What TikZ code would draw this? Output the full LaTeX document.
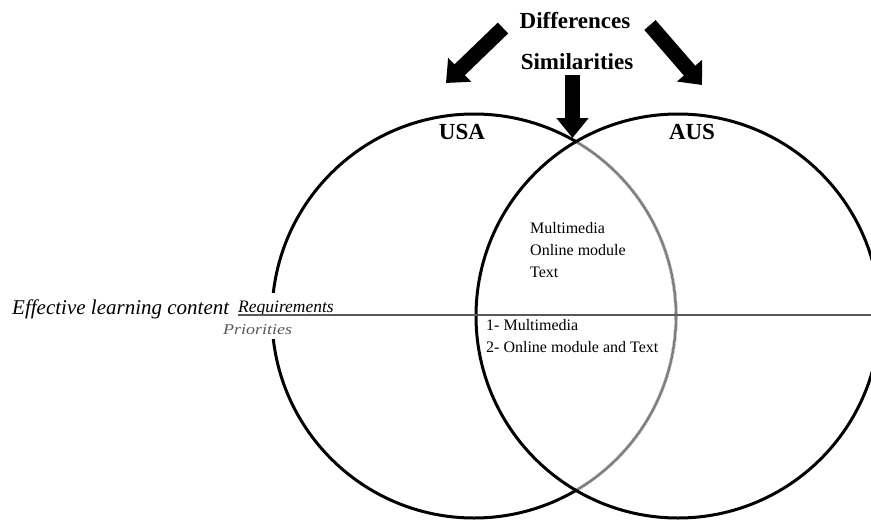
\documentclass[tikz,border=0pt]{standalone}
\usepackage{fontspec}
\setmainfont{Liberation Serif}
\usetikzlibrary{arrows.meta}
\begin{document}
\begin{tikzpicture}[x=1pt,y=-1pt,
  ring/.style={line width=3pt,draw=black},
  heading/.style={font=\bfseries\fontsize{23}{26}\selectfont,inner sep=0pt},
  country/.style={font=\bfseries\fontsize{23}{26}\selectfont,inner sep=0pt},
  item/.style={font=\fontsize{16}{18}\selectfont,inner sep=0pt,anchor=base west},
  blockarrow/.style={line width=15pt,-{Triangle[width=32pt,length=19pt]}},
]
\useasboundingbox (0,0) rectangle (871,520);
\begin{scope}
  \clip (0,0) rectangle (871,520);
  % the two sets
  \draw[ring] (474,316) circle[radius=202pt];
  % part of the USA circle lying inside the AUS circle is grey
  \begin{scope}
    \clip (678,316) circle[radius=202pt];
    \draw[line width=3.4pt,draw=white] (474,316) circle[radius=202pt];
    \draw[line width=2.6pt,draw=black!50] (474,316) circle[radius=202pt];
  \end{scope}
  \draw[ring] (678,316) circle[radius=202pt];
\end{scope}

% titles
\node[heading] (diff) at (575,21) {Differences};
\node[heading] (sim) at (577,62) {Similarities};
\node[country] (usa) at (462,132) {USA};
\node[country] (aus) at (692,132) {AUS};

% block arrows
\coordinate (dlA) at (503,28);
\coordinate (dlB) at (446,83);
\coordinate (drA) at (650,25);
\coordinate (drB) at (702,85);
\coordinate (dsA) at (572.5,75);
\coordinate (dsB) at (572.5,138);
\draw[blockarrow] (dlA) -- (dlB);
\draw[blockarrow] (drA) -- (drB);
\draw[blockarrow,-{Triangle[width=31pt,length=20pt]}] (dsA) -- (dsB);

% row labels (white boxes break the USA circle behind them)
\node[font=\itshape\fontsize{21}{23}\selectfont,inner sep=0pt,anchor=base west] (elc) at (12,314) {Effective learning content};
\node[font=\itshape\fontsize{17.5}{19}\selectfont,fill=white,inner xsep=3pt,inner ysep=7pt,anchor=base west] (req) at (235,312) {Requirements};
\node[font=\itshape\fontsize{15}{17}\selectfont,text=black!65,fill=white,inner xsep=3pt,inner ysep=5pt,anchor=base west] (pri) at (220,334) {\scalebox{1.2}[1]{Priorities}};

% dividing line
\coordinate (lineend) at (871,315);
\draw[line width=1.8pt,draw=black!65] ([xshift=3pt]req.west |- lineend) -- (lineend);

% shared requirements
\node[item] (m1) at (530,233) {Multimedia};
\node[item] (m2) at (530,255) {Online module};
\node[item] (m3) at (530,277) {Text};

% shared priorities
\node[item] (p1) at (486,330) {1- Multimedia};
\node[item] (p2) at (486,352) {2- Online module and Text};
\end{tikzpicture}
\end{document}
